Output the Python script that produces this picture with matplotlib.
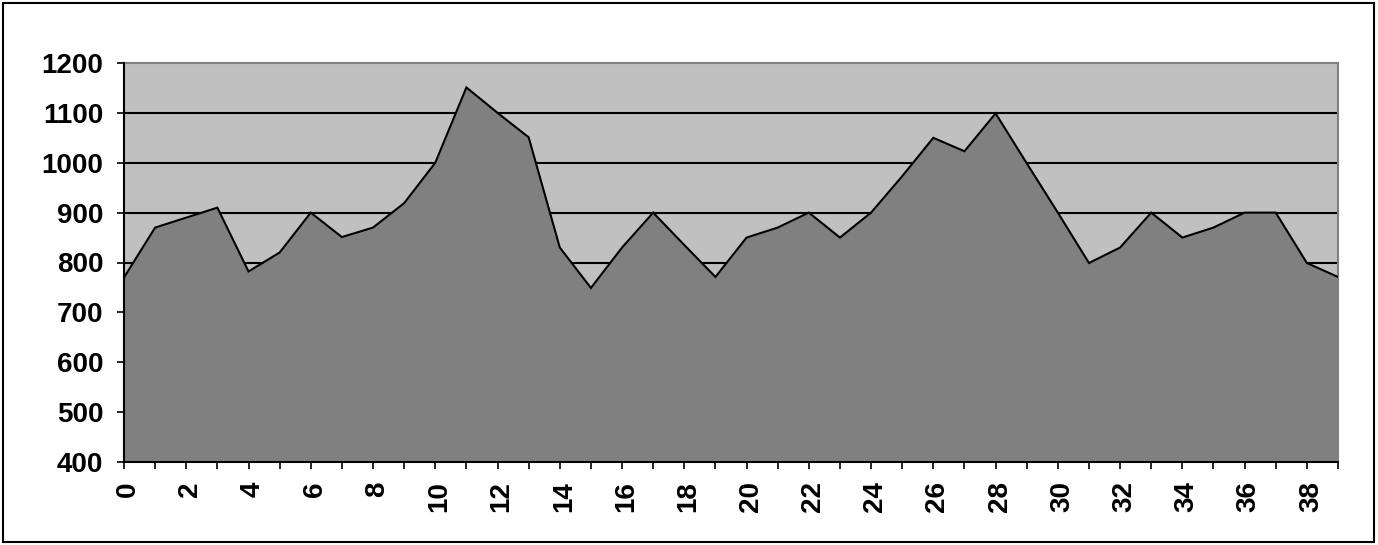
import matplotlib
matplotlib.use("Agg")
import matplotlib.pyplot as plt
import matplotlib.transforms as mtransforms
from matplotlib.patches import Rectangle

x_values = list(range(40))
y_values = [770, 870, 890, 910, 782, 820, 900, 851, 870, 919,
            1000, 1151, 1100, 1051, 830, 749, 830, 900, 835, 771,
            850, 870, 900, 850, 900, 973, 1050, 1023, 1099, 999,
            900, 799, 830, 900, 850, 870, 900, 900, 799, 771]
y_ticks = [400, 500, 600, 700, 800, 900, 1000, 1100, 1200]
x_labels = [str(v) if v % 2 == 0 else "" for v in x_values]

plt.rcParams['font.family'] = ['Liberation Sans', 'DejaVu Sans']

fig = plt.figure(figsize=(13.78, 5.45), dpi=100)
ax = fig.add_axes([124/1378, 83/545, (1338-124)/1378, (462-63)/545])
ax.set_facecolor('#C0C0C0')

for t in y_ticks[1:-1]:
    ax.axhline(t, color='black', lw=1.5, zorder=1)

ax.fill_between(x_values, y_values, 400, color='#808080', lw=0, zorder=2)
ax.plot(x_values, y_values, color='black', lw=1.5, zorder=3, solid_joinstyle='miter')

ax.set_xlim(0, 39)
ax.set_ylim(400, 1200)
ax.set_yticks(y_ticks)
ax.set_yticklabels([str(t) for t in y_ticks], fontsize=20, fontweight='bold')
ax.set_xticks(x_values)
ax.set_xticklabels(x_labels, fontsize=20, fontweight='bold', rotation=90)
ax.tick_params(axis='both', direction='out', length=5, width=1.2, color='black')
ax.tick_params(axis='y', pad=10)
ax.tick_params(axis='x', pad=9)

offset = mtransforms.ScaledTranslation(4/100, 0, fig.dpi_scale_trans)
for lbl in ax.get_xticklabels():
    lbl.set_transform(lbl.get_transform() + offset)

for s in ['top', 'right']:
    ax.spines[s].set_color('#808080')
    ax.spines[s].set_linewidth(1.5)
for s in ['left', 'bottom']:
    ax.spines[s].set_color('black')
    ax.spines[s].set_linewidth(1.5)
    ax.spines[s].set_zorder(4)

fig.patches.append(Rectangle((3/1378, 3/545), 1371/1378, 539/545,
                             transform=fig.transFigure, fill=False,
                             edgecolor='black', lw=1.5))

fig.savefig('out.png', dpi=100, facecolor='white')
